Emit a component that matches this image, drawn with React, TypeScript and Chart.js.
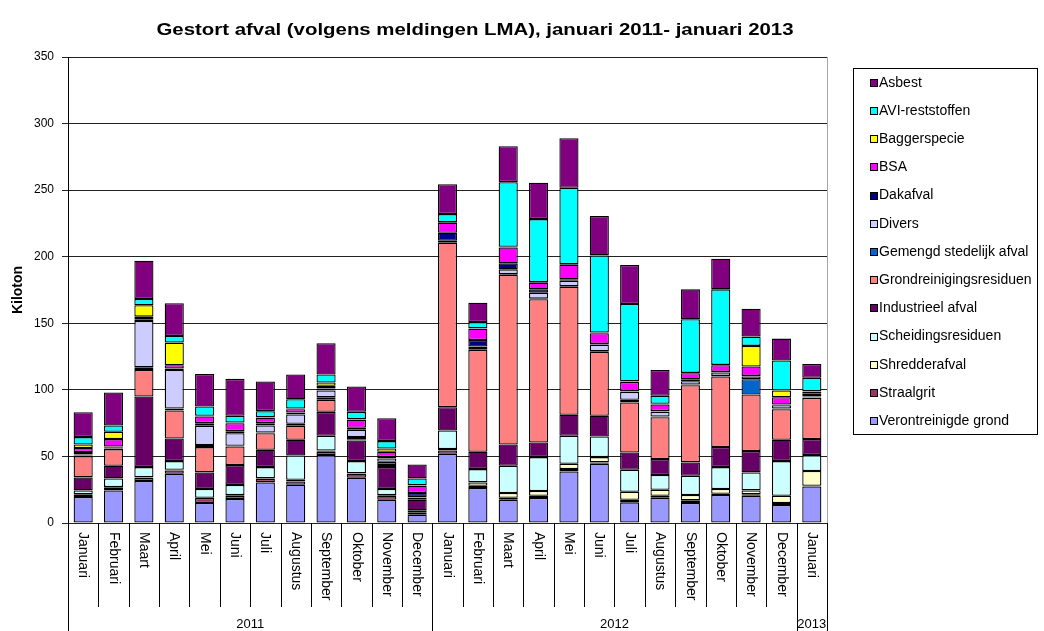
import React, { useEffect, useRef } from 'react';
import { Chart, registerables } from 'chart.js';

Chart.register(...registerables);

const monthLabels = [
  'Januari', 'Februari', 'Maart', 'April', 'Mei', 'Juni', 'Juli', 'Augustus', 'September', 'Oktober', 'November', 'December',
  'Januari', 'Februari', 'Maart', 'April', 'Mei', 'Juni', 'Juli', 'Augustus', 'September', 'Oktober', 'November', 'December',
  'Januari',
];
const yearLabels = ['2011', '2012', '2013'];
const yearCounts = [12, 12, 1];

const titleText = 'Gestort afval (volgens meldingen LMA), januari 2011- januari 2013';
const yTitle = 'Kiloton';

// Series in stacking order (bottom first)
const verontreinigdeGrond = [19.5, 24.5, 31.5, 37, 15, 18, 30.5, 28.75, 51, 34, 17.5, 6.25, 52, 26.25, 17.5, 18.75, 38.75, 44.5, 15.5, 19, 15, 21, 20.5, 13.5, 27.5];
const straalgrit = [1.5, 2, 2.5, 2.5, 3.75, 2.5, 2.5, 2.5, 2.5, 3, 3, 1.75, 2.5, 1.75, 1.5, 1.75, 1.75, 1, 2, 1.5, 2, 1, 1, 1.5, 0.5];
const shredderafval = [0.5, 0.5, 0.25, 0.5, 0.25, 0.5, 0.5, 1.25, 1, 0.25, 0.5, 1, 1, 2.5, 3.5, 3.5, 4, 4, 6, 4.5, 4, 3.5, 3, 5.5, 11];
const scheidingsresiduen = [3, 6.5, 7.75, 6.5, 6.5, 7.5, 8.5, 18.25, 11, 9.25, 4.5, 0.5, 14, 10, 20.5, 25.5, 21, 15.5, 16.5, 11, 14.5, 16.5, 13.5, 26, 12];
const industrieelAfval = [9.75, 9.5, 53, 17, 12.5, 15, 13, 11.75, 18, 15.5, 16.5, 8, 17.5, 13, 16, 11, 15.75, 15.5, 13, 12, 10, 15, 16, 16, 12];
const grondreinigingsresiduen = [16, 12.5, 20, 21, 19, 14, 12.5, 10.5, 9, 0.5, 1.5, 1.5, 123.5, 76.5, 127.5, 107.5, 96.25, 48, 37.5, 31.5, 58, 53, 42.5, 23, 31];
const gemengdStedelijkAfval = [0.5, 0.5, 2, 1.5, 1.5, 0.5, 0.5, 1.5, 2, 2, 2.5, 0.25, 0.5, 0.5, 0.5, 0.5, 0.5, 0.5, 2, 0.5, 0.5, 0.5, 11.5, 0.5, 0.5];
const divers = [0.75, 0.5, 34.75, 29, 14.5, 9.5, 5.25, 7, 5, 5.5, 2.5, 0.25, 1, 2, 3.5, 4.5, 4, 5, 6, 3.5, 2.5, 2.5, 2, 2.5, 0.5];
const dakafval = [1.75, 1, 1.25, 1, 2, 1.5, 1.75, 1.5, 1.5, 1.5, 1, 3, 6, 5, 4.5, 2.5, 1, 0.5, 0.5, 0.5, 1.5, 0.5, 0.5, 0.5, 2];
const bsa = [3, 5.5, 2, 2.5, 5, 6, 4, 2.5, 2, 6, 4, 5.5, 7.5, 8.5, 12, 5, 11, 8, 7, 5, 4.5, 5, 7, 5.5, 1.5];
const baggerspecie = [2.75, 5.5, 8.5, 17, 0.5, 0.5, 0.5, 0.5, 2.5, 0.5, 2.5, 0.25, 0.5, 0.25, 0.5, 0.5, 0.5, 0.5, 0.5, 0.5, 0.25, 0.25, 15.5, 5, 0.5];
const aviReststoffen = [5.5, 4.75, 4.75, 5, 7, 5, 4.5, 7, 6, 5.5, 5.5, 5.25, 6, 4.75, 48.5, 47.25, 57.25, 58, 58, 6, 40.25, 56.75, 7, 22.5, 10];
const asbest = [18.75, 24.75, 28.75, 24.5, 24.5, 27.75, 22.25, 18.5, 23.5, 19, 17.25, 10.5, 22.5, 14.5, 27, 27.25, 37.25, 29.5, 29.25, 19.5, 22.5, 23, 21, 16.5, 10.5];

const seriesNames = [
  'Verontreinigde grond', 'Straalgrit', 'Shredderafval', 'Scheidingsresiduen', 'Industrieel afval',
  'Grondreinigingsresiduen', 'Gemengd stedelijk afval', 'Divers', 'Dakafval', 'BSA', 'Baggerspecie',
  'AVI-reststoffen', 'Asbest',
];
const seriesValues = [
  verontreinigdeGrond, straalgrit, shredderafval, scheidingsresiduen, industrieelAfval,
  grondreinigingsresiduen, gemengdStedelijkAfval, divers, dakafval, bsa, baggerspecie,
  aviReststoffen, asbest,
];
const seriesColors = [
  '#9999FF', '#993366', '#FFFFCC', '#CCFFFF', '#660066',
  '#FF8080', '#0066CC', '#CCCCFF', '#000080', '#FF00FF', '#FFFF00',
  '#00FFFF', '#800080',
];

const FONT = '"Liberation Sans", Arial, sans-serif';

const decorPlugin = {
  id: 'decor',
  afterDraw(chart: any) {
    const ctx = chart.ctx as CanvasRenderingContext2D;
    const xs = chart.scales.x;
    const { right, top, bottom } = chart.chartArea;
    ctx.save();

    // right border of plot area
    ctx.strokeStyle = '#A6A6A6';
    ctx.lineWidth = 1;
    ctx.beginPath();
    ctx.moveTo(Math.round(right) + 0.5, top);
    ctx.lineTo(Math.round(right) + 0.5, bottom);
    ctx.stroke();

    // category separators
    const yearBounds: number[] = [0];
    let acc = 0;
    yearCounts.forEach((c) => { acc += c; yearBounds.push(acc); });
    ctx.strokeStyle = '#000';
    for (let i = 0; i <= monthLabels.length; i++) {
      const x = Math.round(xs.getPixelForValue(i - 0.5)) + 0.5;
      const isYear = yearBounds.includes(i);
      ctx.beginPath();
      ctx.moveTo(x, bottom);
      ctx.lineTo(x, isYear ? 631 : 607);
      ctx.stroke();
    }

    // month labels (rotated clockwise)
    ctx.fillStyle = '#000';
    ctx.font = `14px ${FONT}`;
    ctx.textAlign = 'left';
    ctx.textBaseline = 'middle';
    monthLabels.forEach((m, i) => {
      const cx = xs.getPixelForValue(i);
      ctx.save();
      ctx.translate(cx, bottom + 9);
      ctx.rotate(Math.PI / 2);
      ctx.fillText(m, 0, 0);
      ctx.restore();
    });

    // year labels
    ctx.font = `13px ${FONT}`;
    ctx.textAlign = 'center';
    yearLabels.forEach((y, k) => {
      const x0 = xs.getPixelForValue(yearBounds[k] - 0.5);
      const x1 = xs.getPixelForValue(yearBounds[k + 1] - 0.5);
      ctx.fillText(y, (x0 + x1) / 2, 624);
    });

    // title
    ctx.save();
    ctx.font = `bold 17px ${FONT}`;
    ctx.textAlign = 'center';
    ctx.translate(475, 30);
    ctx.scale(1.2, 1);
    ctx.fillText(titleText, 0, 0);
    ctx.restore();

    // y axis title
    ctx.save();
    ctx.font = `bold 14px ${FONT}`;
    ctx.textAlign = 'center';
    ctx.translate(18, 290);
    ctx.rotate(-Math.PI / 2);
    ctx.fillText(yTitle, 0, 0);
    ctx.restore();

    // legend
    ctx.strokeStyle = '#000';
    ctx.lineWidth = 1;
    ctx.strokeRect(853.5, 68.5, 184, 366);
    ctx.font = `14px ${FONT}`;
    ctx.textAlign = 'left';
    for (let j = 0; j < seriesNames.length; j++) {
      const idx = seriesNames.length - 1 - j;
      const yy = 82.7 + j * 28.2;
      ctx.fillStyle = seriesColors[idx];
      ctx.fillRect(870.5, Math.round(yy) - 3.5, 7, 7);
      ctx.strokeStyle = '#000';
      ctx.strokeRect(870.5, Math.round(yy) - 3.5, 7, 7);
      ctx.fillStyle = '#000';
      ctx.fillText(seriesNames[idx], 879, yy);
    }

    ctx.restore();
  },
};

export default function App() {
  const canvasRef = useRef<HTMLCanvasElement | null>(null);

  useEffect(() => {
    if (!canvasRef.current) return;
    const chart = new Chart(canvasRef.current, {
      type: 'bar',
      data: {
        labels: monthLabels,
        datasets: seriesNames.map((name, i) => ({
          label: name,
          data: seriesValues[i],
          backgroundColor: seriesColors[i],
          borderColor: '#000000',
          borderWidth: 1.3,
          borderSkipped: false,
          categoryPercentage: 1,
          barPercentage: 0.63,
        })),
      },
      options: {
        responsive: false,
        animation: false,
        layout: { padding: { left: 0, top: 57, right: 217, bottom: 108 } },
        plugins: {
          legend: { display: false },
          title: { display: false },
          tooltip: { enabled: false },
        },
        scales: {
          x: { stacked: true, display: false, offset: true },
          y: {
            stacked: true,
            min: 0,
            max: 350,
            ticks: { stepSize: 50, color: '#000', padding: 8, font: { family: FONT, size: 12 } },
            grid: { color: '#222222', lineWidth: 1, tickLength: 6 },
            border: { color: '#000000', width: 1 },
            afterFit: (s: any) => { s.width = 68; },
          },
        },
      },
      plugins: [decorPlugin],
    } as any);
    return () => chart.destroy();
  }, []);

  return (
    <div style={{ position: 'fixed', left: 0, top: 0, width: 1044, height: 631, background: '#fff' }}>
      <canvas ref={canvasRef} width={1044} height={631} style={{ display: 'block' }} />
    </div>
  );
}
